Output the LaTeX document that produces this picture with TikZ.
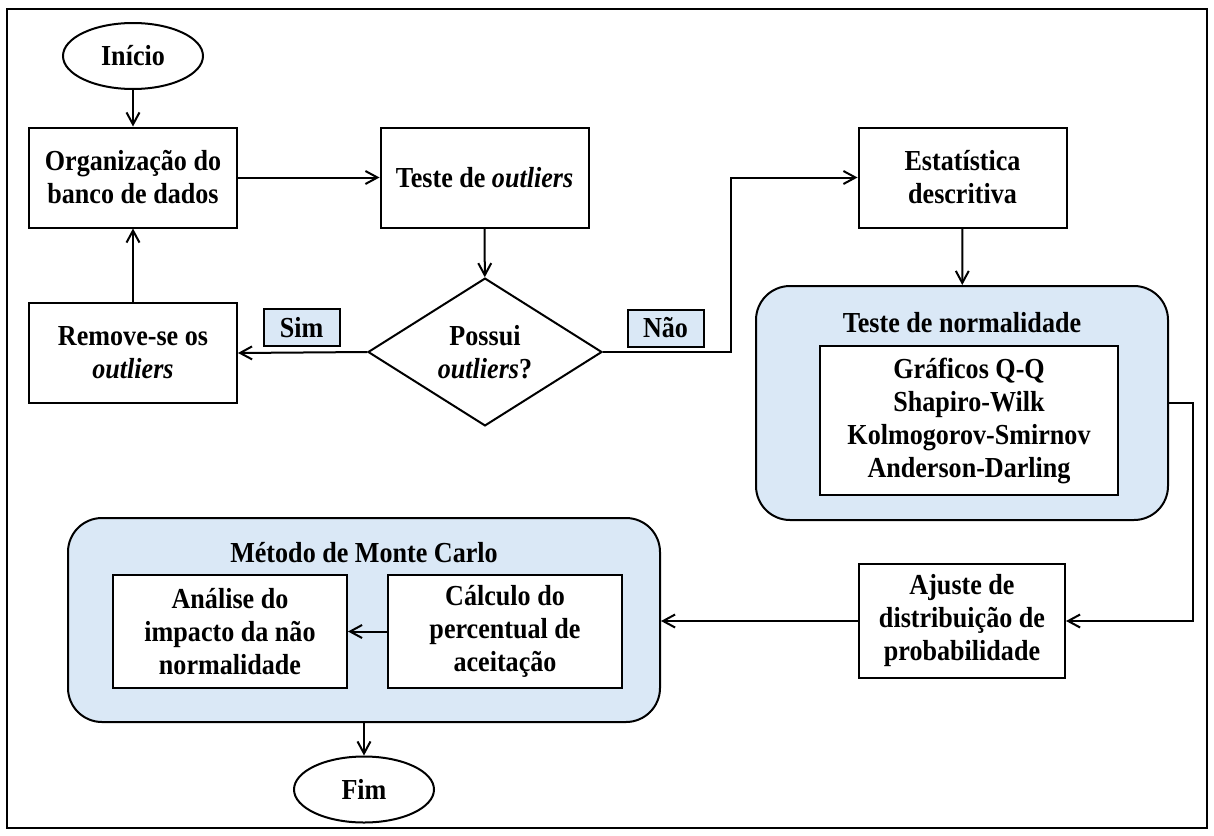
\documentclass[tikz,border=0pt]{standalone}
\usepackage{fontspec}
\setmainfont{Liberation Serif}[FakeStretch=0.9]
\usetikzlibrary{shapes.geometric,arrows.meta}
\definecolor{azulclaro}{RGB}{218,232,246}
\begin{document}
\begin{tikzpicture}[x=0.5pt,y=-0.5pt]
		\tikzstyle{flecha} = [-{Straight Barb[length=6pt,width=6.5pt]}, line width=1pt]
		\tikzstyle{caixa} = [draw, line width=1pt, fill=white, align=center, inner sep=2pt, font=\fontsize{14.5}{16.5}\selectfont\bfseries]
		\tikzstyle{terminal} = [caixa, ellipse, minimum width=70pt, minimum height=33pt]
		\tikzstyle{decisao} = [caixa, diamond, inner sep=0pt, minimum width=117pt, minimum height=60pt]
		\tikzstyle{grupo} = [draw, line width=1pt, fill=azulclaro, rounded corners=17pt]
		\tikzstyle{rotulo} = [caixa, fill=azulclaro, minimum width=38pt, minimum height=18.5pt]
		\tikzstyle{titulo} = [font=\fontsize{14.5}{16.5}\selectfont\bfseries]
		\useasboundingbox (0,0) rectangle (1214,835);
		\draw[line width=1pt] (7,9) rectangle (1207,828);
		
		\node [terminal] (inicio) at (133,56) {Início};
		\node [caixa, minimum width=104pt, minimum height=50pt] (org) at (133,177.5) {Organização do\\banco de dados};
		\node [caixa, minimum width=104pt, minimum height=50pt] (teste) at (484.5,177.5) {Teste de \textit{outliers}};
		\node [decisao] (dec) at (485,352) {Possui\\\textit{outliers}?};
		\node [caixa, minimum width=104pt, minimum height=50pt] (rem) at (133,353) {Remove-se os\\\textit{outliers}};
		\node [rotulo] (sim) at (301.5,327.5) {Sim};
		\node [rotulo] (nao) at (665.5,328) {Não};
		\node [caixa, minimum width=104pt, minimum height=50pt] (estat) at (962.5,177.5) {Estatística\\descritiva};
		
		\node [grupo, minimum width=206pt, minimum height=117pt] (normal) at (962,403) {};
		\node [titulo] (normaltit) at (962,323) {Teste de normalidade};
		\node [caixa, minimum width=149pt, minimum height=74.5pt] (testes) at (969,420.5) {Gráficos Q-Q\\Shapiro-Wilk\\Kolmogorov-Smirnov\\Anderson-Darling};
		\node [caixa, minimum width=103pt, minimum height=57pt] (ajuste) at (962,621) {Ajuste de\\distribuição de\\probabilidade};
		
		\node [grupo, minimum width=296pt, minimum height=102pt] (monte) at (364,620) {};
		\node [titulo] (montetit) at (364,553) {Método de Monte Carlo};
		\node [caixa, minimum width=117pt, minimum height=56.5pt] (analise) at (230,631.5) {Análise do\\impacto da não\\normalidade};
		\node [caixa, minimum width=117pt, minimum height=56.5pt] (calculo) at (505,631.5) {Cálculo do\\percentual de\\aceitação};
		\node [terminal] (fim) at (364,789.5) {Fim};
		
		\coordinate (canto) at (731,352);
		\coordinate (volta) at (1193,403);
		\draw [flecha] (inicio) -- (org);
		\draw [flecha] (org) -- (teste);
		\draw [flecha] (teste) -- (dec);
		\draw [flecha] (dec.west) -- (rem.east);
		\draw [flecha] (rem) -- (org);
		\draw [flecha] (dec.east) -- (canto) |- (estat.west);
		\draw [flecha] (estat) -- (normal);
		\draw [flecha] (normal.east) -- (volta) |- (ajuste.east);
		\draw [flecha] (ajuste.west) -- (ajuste.west -| monte.east);
		\draw [flecha] (calculo.west) -- (analise.east);
		\draw [flecha] (monte) -- (fim);
		\end{tikzpicture}
\end{document}
